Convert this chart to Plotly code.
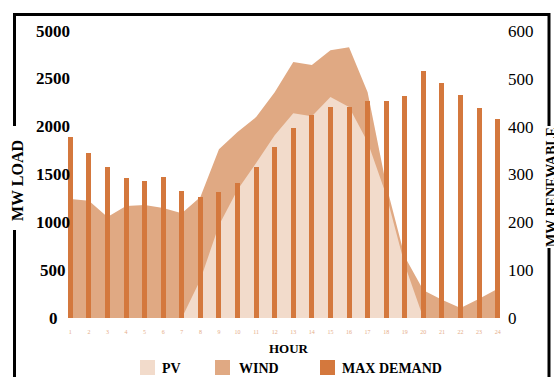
import plotly.graph_objects as go

# ---------------- data ----------------
hours = list(range(1, 25))
max_demand = [1890, 1725, 1580, 1465, 1430, 1475, 1330, 1265, 1315, 1410, 1580, 1790,
              1985, 2120, 2205, 2205, 2270, 2270, 2320, 2580, 2455, 2330, 2195, 2080]
wind = [249, 245, 211, 234, 236, 230, 219, 253, 353, 389, 420, 472,
        535, 529, 560, 566, 472, 278, 128, 58, 38, 21, 40, 61]
pv = [0, 0, 0, 0, 0, 0, 0, 80, 194, 268, 324, 382,
      428, 422, 462, 441, 368, 257, 111, 0, 0, 0, 0, 0]
load_tick_vals = [0, 500, 1000, 1500, 2000, 2500, 3000]
load_tick_text = ["0", "500", "1000", "1500", "2000", "2500", "5000"]
ren_tick_vals = [0, 100, 200, 300, 400, 500, 600]
legend_names = ["PV", "WIND", "MAX DEMAND"]

# ---------------- style ----------------
C_PV = "#f2dbcb"
C_WIND = "#e0a983"
C_BAR = "#d4783d"
SERIF = "Liberation Serif"

W, H = 554, 377
PL, PR, PT, PB = 61, 507, 31, 318


def fx(px):
    return (px - PL) / (PR - PL)


def fy(py):
    return (PB - py) / (PB - PT)


fig = go.Figure()
fig.add_trace(go.Scatter(x=hours, y=wind, mode="none", fill="tozeroy",
                         fillcolor=C_WIND, name="WIND", yaxis="y", showlegend=False))
fig.add_trace(go.Scatter(x=hours, y=pv, mode="none", fill="tozeroy",
                         fillcolor=C_PV, name="PV", yaxis="y", showlegend=False))
fig.add_trace(go.Bar(x=hours, y=max_demand, width=0.27, marker=dict(color=C_BAR, line=dict(width=0)),
                     name="MAX DEMAND", yaxis="y2", showlegend=False))

shapes = []
frame = [((13, 14.5), (550, 14.5)),
         ((14.5, 13), (14.5, 126)), ((14.5, 230), (14.5, 377)),
         ((549, 13), (549, 126)), ((549, 248), (549, 377))]
for (x0, y0), (x1, y1) in frame:
    shapes.append(dict(type="line", xref="paper", yref="paper",
                       x0=fx(x0), y0=fy(y0), x1=fx(x1), y1=fy(y1),
                       line=dict(color="black", width=3)))

annotations = []
for v, t in zip(load_tick_vals, load_tick_text):
    annotations.append(dict(x=fx(53), xref="paper", y=v, yref="y2", text="<b>%s</b>" % t,
                            showarrow=False, xanchor="center", yanchor="middle",
                            font=dict(family=SERIF, size=17, color="black")))

annotations.append(dict(x=fx(18), xref="paper", y=fy(181), yref="paper", text="<b>MW LOAD</b>",
                        textangle=-90, showarrow=False, xanchor="center", yanchor="middle",
                        font=dict(family=SERIF, size=16, color="black")))
annotations.append(dict(x=fx(551), xref="paper", y=fy(187), yref="paper", text="<b>MW RENEWABLE</b>",
                        textangle=-90, showarrow=False, xanchor="center", yanchor="middle",
                        font=dict(family=SERIF, size=14, color="black")))
annotations.append(dict(x=fx(289), xref="paper", y=fy(348), yref="paper", text="<b>HOUR</b>",
                        showarrow=False, xanchor="center", yanchor="middle",
                        font=dict(family=SERIF, size=13, color="black")))

# legend
leg = [(140, 160, C_PV), (215, 237, C_WIND), (320, 340, C_BAR)]
for name, (sx, tx, col) in zip(legend_names, leg):
    shapes.append(dict(type="rect", xref="paper", yref="paper",
                       x0=fx(sx), x1=fx(sx + 15), y0=fy(360), y1=fy(375),
                       fillcolor=col, line=dict(width=0)))
    annotations.append(dict(x=fx(tx), xref="paper", y=fy(368), yref="paper",
                            text="<b>%s</b>" % name, showarrow=False,
                            xanchor="left", yanchor="middle",
                            font=dict(family=SERIF, size=14, color="black")))

fig.update_layout(
    width=W, height=H,
    margin=dict(l=PL, r=W - PR, t=PT, b=H - PB, pad=0),
    paper_bgcolor="white", plot_bgcolor="white",
    showlegend=False,
    bargap=0,
    xaxis=dict(range=[0.5, 24.5], tickmode="array", tickvals=hours,
               ticktext=[str(h) for h in hours], showgrid=False, zeroline=False,
               showline=False, ticks="", ticklabelstandoff=9,
               tickfont=dict(family=SERIF, size=6, color="#e6ad88")),
    yaxis=dict(range=[0, 600], side="right", tickmode="array", tickvals=ren_tick_vals,
               showgrid=False, zeroline=False, showline=False, ticks="",
               ticklabelstandoff=0,
               tickfont=dict(family=SERIF, size=17, color="black"),
               tickprefix="<b>", ticksuffix="</b>"),
    yaxis2=dict(range=[0, 3000], overlaying="y", side="left", showticklabels=False,
                showgrid=False, zeroline=False, showline=False, ticks=""),
    shapes=shapes,
    annotations=annotations,
)

fig.write_html("out.html", config={"displayModeBar": False},
               post_script="document.body.style.margin='0px';document.body.style.overflow='hidden';")
